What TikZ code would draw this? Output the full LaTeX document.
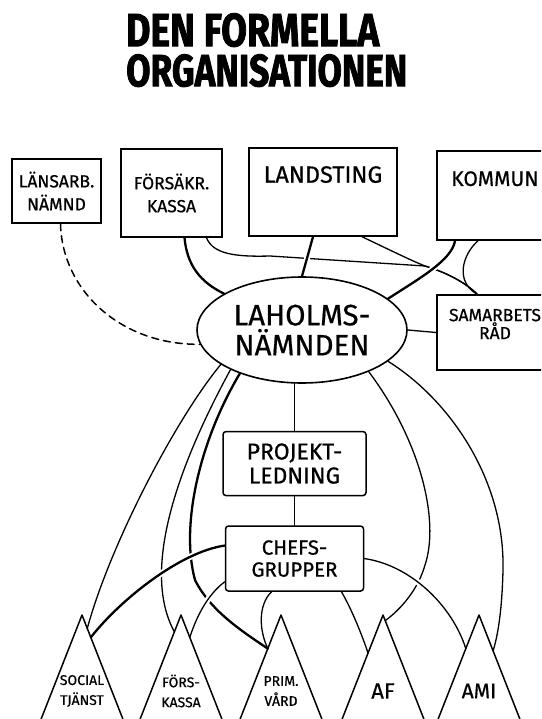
\documentclass[tikz,border=0pt]{standalone}
\usepackage{fontspec}
\usepackage{graphicx}
\newfontfamily\handfont[FakeBold=0.6]{Fira Sans}
\newfontfamily\titlefont[BoldFeatures={FakeBold=2}]{Fira Sans}
\usetikzlibrary{shapes.geometric,positioning,calc,backgrounds}
\tikzset{
  % Organisation box: white, text in caps
  orgbox/.style={draw, rectangle, fill=white, line width=1.5pt, inner sep=0pt,
                 align=center, font=\handfont\fontsize{17.5}{23}\selectfont},
  orgbox-round/.style={orgbox, rounded corners=3pt},
  % The committee in the middle
  ovalbox/.style={draw, ellipse, fill=white, line width=1.6pt, inner sep=0pt,
                  align=center, font=\handfont\fontsize{29.5}{30}\selectfont},
  % Connectors
  link/.style={line width=1.3pt, line cap=round, line join=round},
  link-thick/.style={link, line width=2.3pt},
  link-dash/.style={link, line width=1.5pt, dash pattern=on 7pt off 5pt},
  over/.style={preaction={draw, white, line width=6pt}},
  % Peaks: the units at the bottom
  peakline/.style={line width=1.5pt, line join=round},
  peaklabel/.style={align=center, inner sep=0pt, font=\handfont\fontsize{14}{20}\selectfont},
  % Heading
  titletext/.style={align=left, inner sep=0pt, font=\titlefont\bfseries\fontsize{10}{40}\selectfont}
}
% one unit at the bottom: apex coordinate, two sides, label
\newcommand{\drawpeak}[3]{%
  \coordinate (#1) at (#2,615);
  \coordinate (#1-l) at ($(#1)+(-44,112)$);
  \coordinate (#1-r) at ($(#1)+(44,112)$);
  \draw[peakline] (#1-l) -- (#1) -- (#1-r);
  \node[peaklabel] (#1-txt) at ($(#1)+(0,76)$) {#3};
}
\begin{document}
\begin{tikzpicture}[x=1pt, y=-1pt]
\useasboundingbox (0,0) rectangle (541,719);
\clip (0,0) rectangle (541,719);

% ============== Heading ==============
\node[titletext, anchor=north west] (title) at (126,13)
  {\resizebox{253pt}{33pt}{DEN FORMELLA}\\\resizebox{281pt}{32pt}{ORGANISATIONEN}};

% ============== Top row: the principals ==============
\node[orgbox, minimum width=89pt, minimum height=64pt] (lansarb) at (56.5,191) {LÄNSARB.\\NÄMND};
\node[orgbox, minimum width=101pt, minimum height=88pt] (forsakr) at (171.5,193) {FÖRSÄKR.\\KASSA};
\node[orgbox, minimum width=148pt, minimum height=88pt,
      font=\handfont\fontsize{23.5}{27}\selectfont] (landsting) at (323,192) {LANDSTING\\\strut};
\node[orgbox, minimum width=116pt, minimum height=89pt,
      font=\handfont\fontsize{21}{26}\selectfont] (kommun) at (495,195.5) {KOMMUN\\\strut};

% ============== Middle: committee and council ==============
\node[ovalbox, minimum width=210pt, minimum height=106pt] (laholm) at (302,330) {LAHOLMS-\\NÄMNDEN};
\node[orgbox, minimum width=116pt, minimum height=75pt, text depth=17pt,
      font=\handfont\fontsize{17.5}{16}\selectfont] (samarb) at (495,332.5) {SAMARBETS\\RÅD};

\node[orgbox-round, below=47pt of laholm, xshift=-7.5pt, minimum width=143pt, minimum height=64pt,
      font=\handfont\fontsize{23}{24}\selectfont] (projekt) {PROJEKT-\\LEDNING};
\node[orgbox-round, below=29pt of projekt, minimum width=138pt, minimum height=65pt,
      font=\handfont\fontsize{20.5}{22}\selectfont] (chefs) {CHEFS-\\GRUPPER};

\coordinate (samtop) at ($(samarb.north west)+(41,0)$);

% ============== Connectors (behind the boxes) ==============
\begin{scope}[on background layer]
  % principals -> committee / council
  \draw[link-dash] ($(lansarb.south)+(4,0)$) .. controls (62,290) and (120,345) .. (laholm.188);
  \draw[link] ($(forsakr.south)+(35,0)$) .. controls (213,254) and (235,257) .. (270,256)
    -- (425,266) .. controls (445,272) and (465,282) .. (samtop);
  \draw[link] ($(landsting.south)+(39,0)$) .. controls (390,250) and (410,260) .. (425,266)
    .. controls (445,272) and (465,282) .. (samtop);
  \draw[link] ($(kommun.south)+(-17,0)$) .. controls (462,255) and (455,282) .. (samtop);
  \draw[link-thick] ($(forsakr.south)+(13,0)$) .. controls (187,265) and (200,282) .. (laholm.155);
  \draw[link-thick, over] ($(landsting.south)+(-10,0)$) -- (laholm.north);
  \draw[link-thick, over] ($(kommun.south)+(-40,0)$) .. controls (452,260) and (420,278) .. (laholm.20);
  \draw[link] (laholm.east) -- (samarb.west);

  % centre column
  \draw[link] (laholm.south -| projekt.north) -- (projekt.north);
  \draw[link] (projekt.south) -- (chefs.north);
\end{scope}

% ============== Units at the bottom ==============
\drawpeak{social}{82}{SOCIAL\\TJÄNST}
\drawpeak{forskassa}{181}{FÖRS-\\KASSA}
\drawpeak{primvard}{281}{PRIM.\\VÅRD}
\drawpeak{af}{383}{\fontsize{22}{22}\selectfont AF}
\drawpeak{ami}{479}{\fontsize{21}{22}\selectfont AMI}

\begin{scope}[on background layer]
  % committee -> units (the big arcs)
  \draw[link] (laholm.203) .. controls (175,420) and (110,545) .. ($(social)!0.12!(social-r)$);
  \draw[link] (laholm.209) .. controls (195,435) and (135,560) .. ($(forskassa)!0.15!(forskassa-l)$);
  \draw[link-thick] (laholm.215) .. controls (200,440) and (180,525) .. (195,580)
    .. controls (210,610) and (240,630) .. ($(primvard)!0.3!(primvard-l)$);
  \draw[link] (laholm.-32) .. controls (420,440) and (440,520) .. (425,565)
    .. controls (418,590) and (400,610) .. ($(af)!0.05!(af-r)$);
  \draw[link] (laholm.-20) .. controls (450,400) and (505,480) .. (503,570)
    .. controls (502,610) and (498,635) .. ($(ami)!0.32!(ami-r)$);

  % management groups -> units
  \draw[link] ($(chefs.south)+(-23,0)$) .. controls (258,605) and (259,630) .. ($(primvard)!0.3!(primvard-l)$);
  \draw[link] ($(chefs.south)+(47,0)$) .. controls (352,610) and (362,635) .. ($(af)!0.34!(af-l)$);
  \draw[link-thick, over] ($(chefs.west)+(0,-13)$) .. controls (180,552) and (120,600) .. ($(social)!0.2!(social-r)$);
  \draw[link, over] ($(chefs.south west)+(0,-10)$) .. controls (207,595) and (196,618) .. ($(forskassa)!0.2!(forskassa-r)$);
  \draw[link, over] (chefs.east) .. controls (410,565) and (452,605) .. ($(ami)!0.3!(ami-l)$);
\end{scope}

\end{tikzpicture}
\end{document}
